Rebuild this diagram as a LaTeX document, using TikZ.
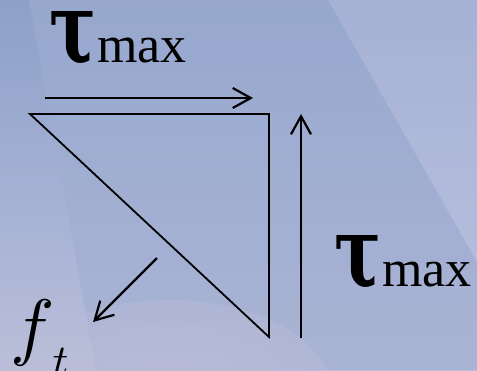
\documentclass[tikz,border=0pt]{standalone}
\usepackage{bm}
\usepackage{fontspec}
\setmainfont{Liberation Serif}
\newfontfamily\taufont{DejaVu Serif}
\usetikzlibrary{arrows.meta}
\definecolor{bgtop}{RGB}{140,160,200}
\definecolor{bgmid}{RGB}{164,176,212}
\definecolor{bgbot}{RGB}{186,190,216}
\definecolor{streak}{RGB}{190,196,226}
\definecolor{pinkish}{RGB}{210,200,222}
\tikzset{
  edge/.style={line width=1.8pt, line join=miter},
  force/.style={line width=2.2pt, -{Straight Barb[length=18pt,width=20pt,line width=2.2pt]}},
  lbl/.style={inner sep=0pt, anchor=base west},
}
\newcommand{\taumax}{\resizebox{47pt}{51pt}{\taufont\bfseries τ}\kern1pt{\fontsize{52}{60}\selectfont max}}
\begin{document}
\begin{tikzpicture}[x=1pt,y=-1pt]
\useasboundingbox (0,0) rectangle (477,370);
% background
\shade[top color=bgtop, bottom color=bgbot, middle color=bgmid] (0,0) rectangle (477,370);
\fill[streak, opacity=0.35] (29,0) -- (477,0) -- (477,370) -- (96,370) -- cycle;
\fill[bgtop, opacity=0.35] (29,0) -- (328,0) -- (477,262) -- (477,370) -- (96,370) -- cycle;
\fill[streak, opacity=0.25] (328,0) -- (477,0) -- (477,262) -- cycle;
\begin{scope}
\clip (29,0) -- (328,0) -- (477,262) -- (477,370) -- (96,370) -- cycle;
\shade[inner color=pinkish, outer color=bgbot, opacity=0.4] (170,390) ellipse (160 and 90);
\end{scope}
% triangle
\coordinate (A) at (30,114);
\coordinate (B) at (269,114);
\coordinate (C) at (269,337);
\draw[edge] (A) -- (B) -- (C) -- cycle;
% arrows
\coordinate (t1) at (45,98);
\coordinate (t2) at (253,98);
\draw[force] (t1) -- (t2);
\coordinate (r1) at (301,338);
\coordinate (r2) at (301,114);
\draw[force] (r1) -- (r2);
\coordinate (f1) at (157,258);
\coordinate (f2) at (93,322);
\draw[force] (f1) -- (f2);
% labels
\node[lbl] (lt) at (49,62) {\taumax};
\node[lbl] (lr) at (334,286) {\taumax};
\node[lbl] (lf) at (10,351) {\scalebox{7.43}{$f$}\kern-2pt\raisebox{-24pt}{\scalebox{4.4}{$t$}}};
\end{tikzpicture}
\end{document}
